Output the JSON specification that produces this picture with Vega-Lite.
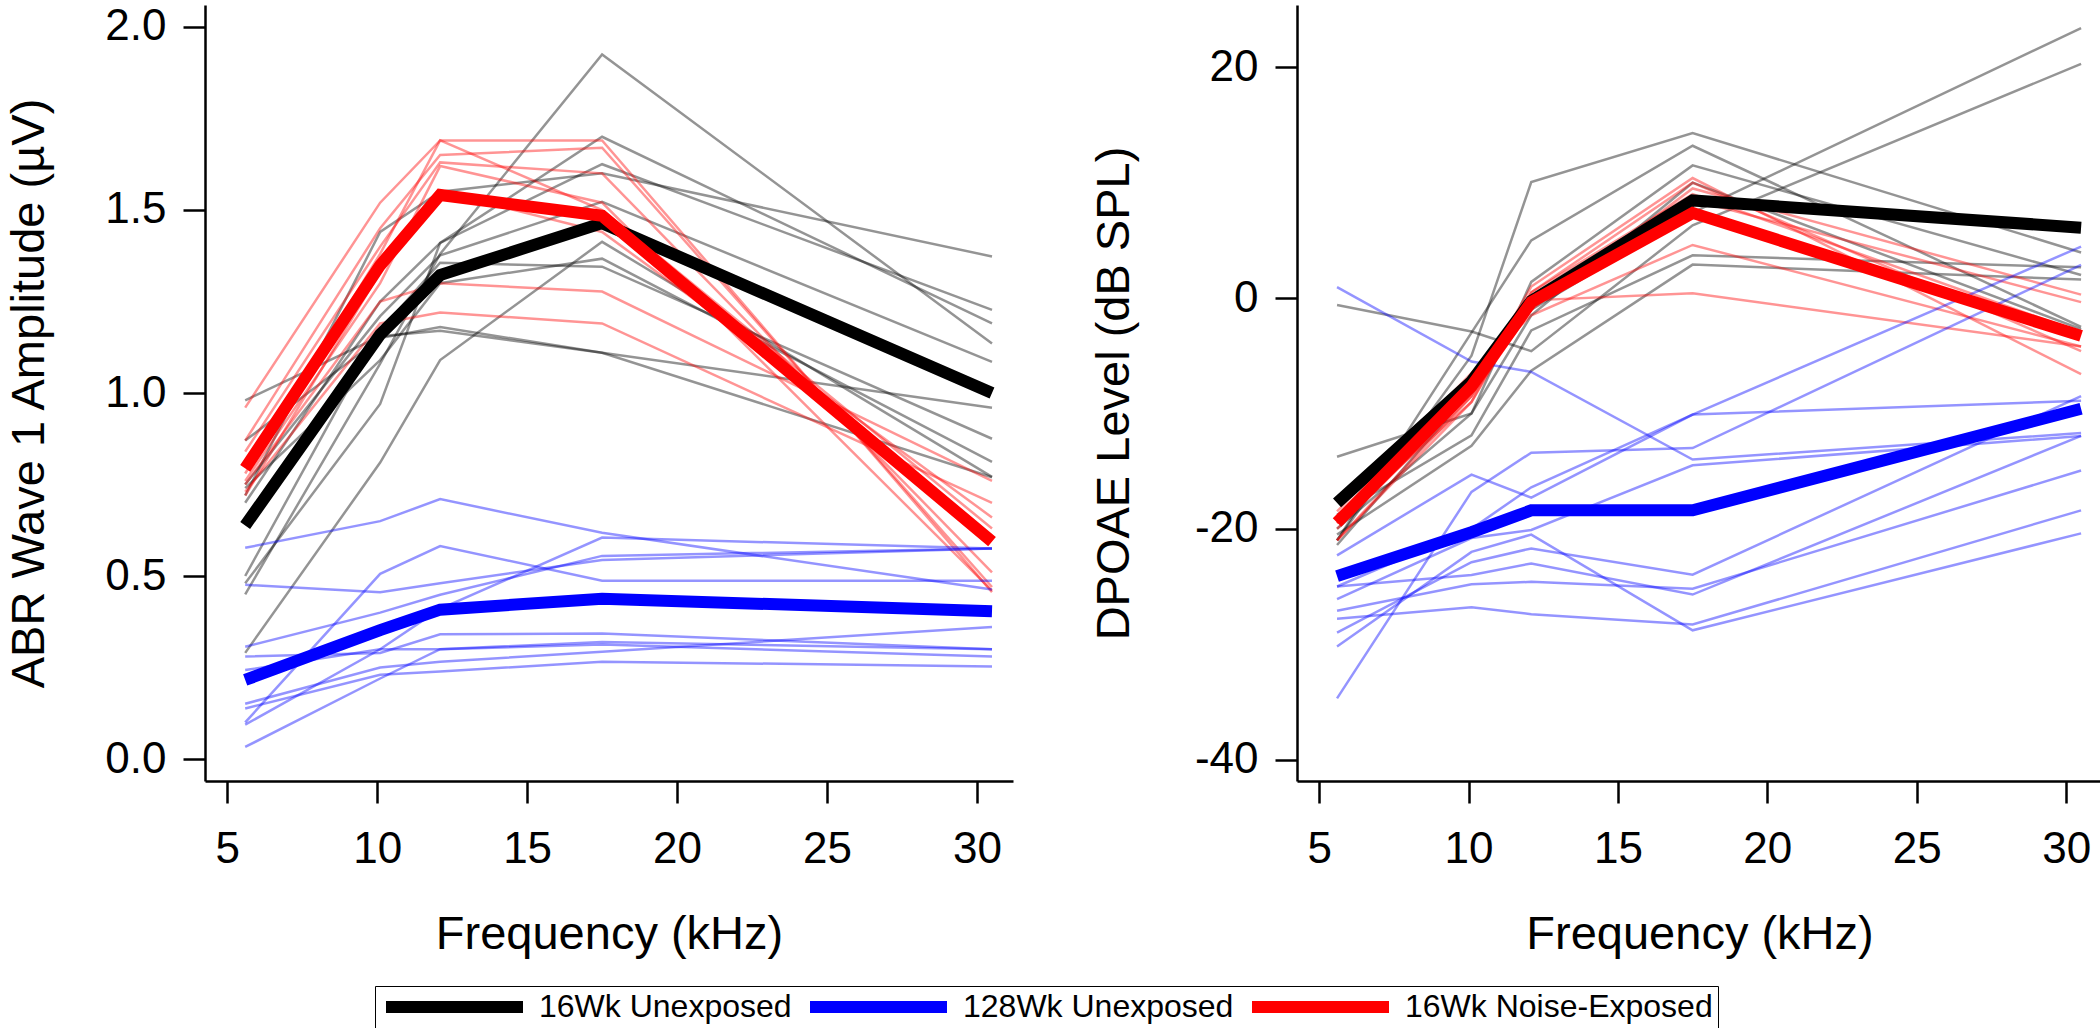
{
  "$schema": "https://vega.github.io/schema/vega-lite/v6.json",
  "padding": {"left": 5, "top": 4, "right": 0, "bottom": 0},
  "bounds": "flush",
  "spacing": 284,
  "config": {
    "font": "Liberation Sans",
    "view": {"stroke": null},
    "axis": {
      "grid": false,
      "domainColor": "black",
      "domainWidth": 2.5,
      "tickColor": "black",
      "tickWidth": 2.5,
      "tickSize": 22,
      "labelFont": "Liberation Sans",
      "labelFontSize": 44,
      "labelColor": "black",
      "labelFlush": false,
      "titleFont": "Liberation Sans",
      "titleFontSize": 47,
      "titleFontWeight": "normal",
      "titleColor": "black"
    },
    "axisX": {"labelPadding": 24, "titlePadding": 40},
    "axisY": {"labelPadding": 17}
  },
  "resolve": {"scale": {"color": "independent", "stroke": "independent"}, "legend": {"color": "independent"}},
  "datasets": {
    "abr": [
      {"g": "16Wk Unexposed", "id": "B1", "f": 5.6, "v": 0.45}, {"g": "16Wk Unexposed", "id": "B1", "f": 10.1, "v": 1.08}, {"g": "16Wk Unexposed", "id": "B1", "f": 12.1, "v": 1.38}, {"g": "16Wk Unexposed", "id": "B1", "f": 17.5, "v": 1.925}, {"g": "16Wk Unexposed", "id": "B1", "f": 30.5, "v": 1.135},
      {"g": "16Wk Unexposed", "id": "B2", "f": 5.6, "v": 0.48}, {"g": "16Wk Unexposed", "id": "B2", "f": 10.1, "v": 0.97}, {"g": "16Wk Unexposed", "id": "B2", "f": 12.1, "v": 1.41}, {"g": "16Wk Unexposed", "id": "B2", "f": 17.5, "v": 1.70}, {"g": "16Wk Unexposed", "id": "B2", "f": 30.5, "v": 1.19},
      {"g": "16Wk Unexposed", "id": "B3", "f": 5.6, "v": 0.72}, {"g": "16Wk Unexposed", "id": "B3", "f": 10.1, "v": 1.44}, {"g": "16Wk Unexposed", "id": "B3", "f": 12.1, "v": 1.55}, {"g": "16Wk Unexposed", "id": "B3", "f": 17.5, "v": 1.60}, {"g": "16Wk Unexposed", "id": "B3", "f": 30.5, "v": 1.373},
      {"g": "16Wk Unexposed", "id": "B4", "f": 5.6, "v": 0.70}, {"g": "16Wk Unexposed", "id": "B4", "f": 10.1, "v": 1.25}, {"g": "16Wk Unexposed", "id": "B4", "f": 12.1, "v": 1.41}, {"g": "16Wk Unexposed", "id": "B4", "f": 17.5, "v": 1.625}, {"g": "16Wk Unexposed", "id": "B4", "f": 30.5, "v": 1.227},
      {"g": "16Wk Unexposed", "id": "B5", "f": 5.6, "v": 0.75}, {"g": "16Wk Unexposed", "id": "B5", "f": 10.1, "v": 1.21}, {"g": "16Wk Unexposed", "id": "B5", "f": 12.1, "v": 1.376}, {"g": "16Wk Unexposed", "id": "B5", "f": 17.5, "v": 1.522}, {"g": "16Wk Unexposed", "id": "B5", "f": 30.5, "v": 1.085},
      {"g": "16Wk Unexposed", "id": "B6", "f": 5.6, "v": 0.50}, {"g": "16Wk Unexposed", "id": "B6", "f": 10.1, "v": 1.17}, {"g": "16Wk Unexposed", "id": "B6", "f": 12.1, "v": 1.356}, {"g": "16Wk Unexposed", "id": "B6", "f": 17.5, "v": 1.345}, {"g": "16Wk Unexposed", "id": "B6", "f": 30.5, "v": 0.875},
      {"g": "16Wk Unexposed", "id": "B7", "f": 5.6, "v": 0.74}, {"g": "16Wk Unexposed", "id": "B7", "f": 10.1, "v": 1.09}, {"g": "16Wk Unexposed", "id": "B7", "f": 12.1, "v": 1.30}, {"g": "16Wk Unexposed", "id": "B7", "f": 17.5, "v": 1.367}, {"g": "16Wk Unexposed", "id": "B7", "f": 30.5, "v": 0.812},
      {"g": "16Wk Unexposed", "id": "B8", "f": 5.6, "v": 0.29}, {"g": "16Wk Unexposed", "id": "B8", "f": 10.1, "v": 0.81}, {"g": "16Wk Unexposed", "id": "B8", "f": 12.1, "v": 1.09}, {"g": "16Wk Unexposed", "id": "B8", "f": 17.5, "v": 1.413}, {"g": "16Wk Unexposed", "id": "B8", "f": 30.5, "v": 0.771},
      {"g": "16Wk Unexposed", "id": "B9", "f": 5.6, "v": 0.98}, {"g": "16Wk Unexposed", "id": "B9", "f": 10.1, "v": 1.155}, {"g": "16Wk Unexposed", "id": "B9", "f": 12.1, "v": 1.17}, {"g": "16Wk Unexposed", "id": "B9", "f": 17.5, "v": 1.11}, {"g": "16Wk Unexposed", "id": "B9", "f": 30.5, "v": 0.77},
      {"g": "16Wk Unexposed", "id": "B10", "f": 5.6, "v": 0.87}, {"g": "16Wk Unexposed", "id": "B10", "f": 10.1, "v": 1.15}, {"g": "16Wk Unexposed", "id": "B10", "f": 12.1, "v": 1.18}, {"g": "16Wk Unexposed", "id": "B10", "f": 17.5, "v": 1.11}, {"g": "16Wk Unexposed", "id": "B10", "f": 30.5, "v": 0.96},
      {"g": "16Wk Noise-Exposed", "id": "R1", "f": 5.6, "v": 0.96}, {"g": "16Wk Noise-Exposed", "id": "R1", "f": 10.1, "v": 1.52}, {"g": "16Wk Noise-Exposed", "id": "R1", "f": 12.1, "v": 1.69}, {"g": "16Wk Noise-Exposed", "id": "R1", "f": 17.5, "v": 1.69}, {"g": "16Wk Noise-Exposed", "id": "R1", "f": 30.5, "v": 0.456},
      {"g": "16Wk Noise-Exposed", "id": "R2", "f": 5.6, "v": 0.87}, {"g": "16Wk Noise-Exposed", "id": "R2", "f": 10.1, "v": 1.45}, {"g": "16Wk Noise-Exposed", "id": "R2", "f": 12.1, "v": 1.65}, {"g": "16Wk Noise-Exposed", "id": "R2", "f": 17.5, "v": 1.67}, {"g": "16Wk Noise-Exposed", "id": "R2", "f": 30.5, "v": 0.47},
      {"g": "16Wk Noise-Exposed", "id": "R3", "f": 5.6, "v": 0.84}, {"g": "16Wk Noise-Exposed", "id": "R3", "f": 10.1, "v": 1.40}, {"g": "16Wk Noise-Exposed", "id": "R3", "f": 12.1, "v": 1.63}, {"g": "16Wk Noise-Exposed", "id": "R3", "f": 17.5, "v": 1.60}, {"g": "16Wk Noise-Exposed", "id": "R3", "f": 30.5, "v": 0.51},
      {"g": "16Wk Noise-Exposed", "id": "R4", "f": 5.6, "v": 0.78}, {"g": "16Wk Noise-Exposed", "id": "R4", "f": 10.1, "v": 1.38}, {"g": "16Wk Noise-Exposed", "id": "R4", "f": 12.1, "v": 1.69}, {"g": "16Wk Noise-Exposed", "id": "R4", "f": 17.5, "v": 1.50}, {"g": "16Wk Noise-Exposed", "id": "R4", "f": 30.5, "v": 0.63},
      {"g": "16Wk Noise-Exposed", "id": "R5", "f": 5.6, "v": 0.75}, {"g": "16Wk Noise-Exposed", "id": "R5", "f": 10.1, "v": 1.25}, {"g": "16Wk Noise-Exposed", "id": "R5", "f": 12.1, "v": 1.30}, {"g": "16Wk Noise-Exposed", "id": "R5", "f": 17.5, "v": 1.277}, {"g": "16Wk Noise-Exposed", "id": "R5", "f": 30.5, "v": 0.76},
      {"g": "16Wk Noise-Exposed", "id": "R6", "f": 5.6, "v": 0.73}, {"g": "16Wk Noise-Exposed", "id": "R6", "f": 10.1, "v": 1.19}, {"g": "16Wk Noise-Exposed", "id": "R6", "f": 12.1, "v": 1.22}, {"g": "16Wk Noise-Exposed", "id": "R6", "f": 17.5, "v": 1.19}, {"g": "16Wk Noise-Exposed", "id": "R6", "f": 30.5, "v": 0.70},
      {"g": "16Wk Noise-Exposed", "id": "R7", "f": 5.6, "v": 0.76}, {"g": "16Wk Noise-Exposed", "id": "R7", "f": 10.1, "v": 1.30}, {"g": "16Wk Noise-Exposed", "id": "R7", "f": 12.1, "v": 1.62}, {"g": "16Wk Noise-Exposed", "id": "R7", "f": 17.5, "v": 1.52}, {"g": "16Wk Noise-Exposed", "id": "R7", "f": 30.5, "v": 0.46},
      {"g": "16Wk Noise-Exposed", "id": "R8", "f": 5.6, "v": 0.72}, {"g": "16Wk Noise-Exposed", "id": "R8", "f": 10.1, "v": 1.33}, {"g": "16Wk Noise-Exposed", "id": "R8", "f": 12.1, "v": 1.55}, {"g": "16Wk Noise-Exposed", "id": "R8", "f": 17.5, "v": 1.44}, {"g": "16Wk Noise-Exposed", "id": "R8", "f": 30.5, "v": 0.66},
      {"g": "128Wk Unexposed", "id": "L1", "f": 5.6, "v": 0.577}, {"g": "128Wk Unexposed", "id": "L1", "f": 10.1, "v": 0.65}, {"g": "128Wk Unexposed", "id": "L1", "f": 12.1, "v": 0.71}, {"g": "128Wk Unexposed", "id": "L1", "f": 17.5, "v": 0.618}, {"g": "128Wk Unexposed", "id": "L1", "f": 30.5, "v": 0.463},
      {"g": "128Wk Unexposed", "id": "L2", "f": 5.6, "v": 0.476}, {"g": "128Wk Unexposed", "id": "L2", "f": 10.1, "v": 0.456}, {"g": "128Wk Unexposed", "id": "L2", "f": 12.1, "v": 0.48}, {"g": "128Wk Unexposed", "id": "L2", "f": 17.5, "v": 0.544}, {"g": "128Wk Unexposed", "id": "L2", "f": 30.5, "v": 0.575},
      {"g": "128Wk Unexposed", "id": "L3", "f": 5.6, "v": 0.10}, {"g": "128Wk Unexposed", "id": "L3", "f": 10.1, "v": 0.506}, {"g": "128Wk Unexposed", "id": "L3", "f": 12.1, "v": 0.582}, {"g": "128Wk Unexposed", "id": "L3", "f": 17.5, "v": 0.487}, {"g": "128Wk Unexposed", "id": "L3", "f": 30.5, "v": 0.487},
      {"g": "128Wk Unexposed", "id": "L4", "f": 5.6, "v": 0.307}, {"g": "128Wk Unexposed", "id": "L4", "f": 10.1, "v": 0.40}, {"g": "128Wk Unexposed", "id": "L4", "f": 12.1, "v": 0.449}, {"g": "128Wk Unexposed", "id": "L4", "f": 17.5, "v": 0.555}, {"g": "128Wk Unexposed", "id": "L4", "f": 30.5, "v": 0.575},
      {"g": "128Wk Unexposed", "id": "L5", "f": 5.6, "v": 0.094}, {"g": "128Wk Unexposed", "id": "L5", "f": 10.1, "v": 0.30}, {"g": "128Wk Unexposed", "id": "L5", "f": 12.1, "v": 0.41}, {"g": "128Wk Unexposed", "id": "L5", "f": 17.5, "v": 0.605}, {"g": "128Wk Unexposed", "id": "L5", "f": 30.5, "v": 0.575},
      {"g": "128Wk Unexposed", "id": "L6", "f": 5.6, "v": 0.28}, {"g": "128Wk Unexposed", "id": "L6", "f": 10.1, "v": 0.29}, {"g": "128Wk Unexposed", "id": "L6", "f": 12.1, "v": 0.341}, {"g": "128Wk Unexposed", "id": "L6", "f": 17.5, "v": 0.343}, {"g": "128Wk Unexposed", "id": "L6", "f": 30.5, "v": 0.30},
      {"g": "128Wk Unexposed", "id": "L7", "f": 5.6, "v": 0.243}, {"g": "128Wk Unexposed", "id": "L7", "f": 10.1, "v": 0.30}, {"g": "128Wk Unexposed", "id": "L7", "f": 12.1, "v": 0.30}, {"g": "128Wk Unexposed", "id": "L7", "f": 17.5, "v": 0.313}, {"g": "128Wk Unexposed", "id": "L7", "f": 30.5, "v": 0.28},
      {"g": "128Wk Unexposed", "id": "L8", "f": 5.6, "v": 0.151}, {"g": "128Wk Unexposed", "id": "L8", "f": 10.1, "v": 0.25}, {"g": "128Wk Unexposed", "id": "L8", "f": 12.1, "v": 0.266}, {"g": "128Wk Unexposed", "id": "L8", "f": 17.5, "v": 0.293}, {"g": "128Wk Unexposed", "id": "L8", "f": 30.5, "v": 0.361},
      {"g": "128Wk Unexposed", "id": "L9", "f": 5.6, "v": 0.138}, {"g": "128Wk Unexposed", "id": "L9", "f": 10.1, "v": 0.23}, {"g": "128Wk Unexposed", "id": "L9", "f": 12.1, "v": 0.239}, {"g": "128Wk Unexposed", "id": "L9", "f": 17.5, "v": 0.266}, {"g": "128Wk Unexposed", "id": "L9", "f": 30.5, "v": 0.253},
      {"g": "128Wk Unexposed", "id": "L10", "f": 5.6, "v": 0.033}, {"g": "128Wk Unexposed", "id": "L10", "f": 10.1, "v": 0.22}, {"g": "128Wk Unexposed", "id": "L10", "f": 12.1, "v": 0.30}, {"g": "128Wk Unexposed", "id": "L10", "f": 17.5, "v": 0.32}, {"g": "128Wk Unexposed", "id": "L10", "f": 30.5, "v": 0.30},
      {"g": "16Wk Unexposed", "id": "mean", "f": 5.6, "v": 0.638}, {"g": "16Wk Unexposed", "id": "mean", "f": 10.1, "v": 1.16}, {"g": "16Wk Unexposed", "id": "mean", "f": 12.1, "v": 1.322}, {"g": "16Wk Unexposed", "id": "mean", "f": 17.5, "v": 1.464}, {"g": "16Wk Unexposed", "id": "mean", "f": 30.5, "v": 1.0},
      {"g": "128Wk Unexposed", "id": "mean", "f": 5.6, "v": 0.216}, {"g": "128Wk Unexposed", "id": "mean", "f": 10.1, "v": 0.352}, {"g": "128Wk Unexposed", "id": "mean", "f": 12.1, "v": 0.408}, {"g": "128Wk Unexposed", "id": "mean", "f": 17.5, "v": 0.438}, {"g": "128Wk Unexposed", "id": "mean", "f": 30.5, "v": 0.404},
      {"g": "16Wk Noise-Exposed", "id": "mean", "f": 5.6, "v": 0.794}, {"g": "16Wk Noise-Exposed", "id": "mean", "f": 10.1, "v": 1.349}, {"g": "16Wk Noise-Exposed", "id": "mean", "f": 12.1, "v": 1.541}, {"g": "16Wk Noise-Exposed", "id": "mean", "f": 17.5, "v": 1.484}, {"g": "16Wk Noise-Exposed", "id": "mean", "f": 30.5, "v": 0.594}
    ],
    "dpoae": [
      {"g": "16Wk Unexposed", "id": "D1", "f": 5.6, "v": -0.6}, {"g": "16Wk Unexposed", "id": "D1", "f": 10.1, "v": -2.9}, {"g": "16Wk Unexposed", "id": "D1", "f": 12.1, "v": -4.6}, {"g": "16Wk Unexposed", "id": "D1", "f": 17.5, "v": 6.3}, {"g": "16Wk Unexposed", "id": "D1", "f": 30.5, "v": 20.3},
      {"g": "16Wk Unexposed", "id": "D2", "f": 5.6, "v": -21.0}, {"g": "16Wk Unexposed", "id": "D2", "f": 10.1, "v": -5.0}, {"g": "16Wk Unexposed", "id": "D2", "f": 12.1, "v": 10.05}, {"g": "16Wk Unexposed", "id": "D2", "f": 17.5, "v": 14.3}, {"g": "16Wk Unexposed", "id": "D2", "f": 30.5, "v": 3.95},
      {"g": "16Wk Unexposed", "id": "D3", "f": 5.6, "v": -21.0}, {"g": "16Wk Unexposed", "id": "D3", "f": 10.1, "v": -3.0}, {"g": "16Wk Unexposed", "id": "D3", "f": 12.1, "v": 5.0}, {"g": "16Wk Unexposed", "id": "D3", "f": 17.5, "v": 13.2}, {"g": "16Wk Unexposed", "id": "D3", "f": 30.5, "v": -2.5},
      {"g": "16Wk Unexposed", "id": "D4", "f": 5.6, "v": -13.75}, {"g": "16Wk Unexposed", "id": "D4", "f": 10.1, "v": -10.0}, {"g": "16Wk Unexposed", "id": "D4", "f": 12.1, "v": 1.4}, {"g": "16Wk Unexposed", "id": "D4", "f": 17.5, "v": 11.5}, {"g": "16Wk Unexposed", "id": "D4", "f": 30.5, "v": 2.0},
      {"g": "16Wk Unexposed", "id": "D5", "f": 5.6, "v": -21.4}, {"g": "16Wk Unexposed", "id": "D5", "f": 10.1, "v": -8.0}, {"g": "16Wk Unexposed", "id": "D5", "f": 12.1, "v": -1.0}, {"g": "16Wk Unexposed", "id": "D5", "f": 17.5, "v": 7.4}, {"g": "16Wk Unexposed", "id": "D5", "f": 30.5, "v": 23.4},
      {"g": "16Wk Unexposed", "id": "D6", "f": 5.6, "v": -20.0}, {"g": "16Wk Unexposed", "id": "D6", "f": 10.1, "v": -10.0}, {"g": "16Wk Unexposed", "id": "D6", "f": 12.1, "v": -1.5}, {"g": "16Wk Unexposed", "id": "D6", "f": 17.5, "v": 10.0}, {"g": "16Wk Unexposed", "id": "D6", "f": 30.5, "v": -2.7},
      {"g": "16Wk Unexposed", "id": "D7", "f": 5.6, "v": -18.8}, {"g": "16Wk Unexposed", "id": "D7", "f": 10.1, "v": -11.9}, {"g": "16Wk Unexposed", "id": "D7", "f": 12.1, "v": -2.8}, {"g": "16Wk Unexposed", "id": "D7", "f": 17.5, "v": 3.7}, {"g": "16Wk Unexposed", "id": "D7", "f": 30.5, "v": 2.66},
      {"g": "16Wk Unexposed", "id": "D8", "f": 5.6, "v": -20.5}, {"g": "16Wk Unexposed", "id": "D8", "f": 10.1, "v": -12.8}, {"g": "16Wk Unexposed", "id": "D8", "f": 12.1, "v": -6.3}, {"g": "16Wk Unexposed", "id": "D8", "f": 17.5, "v": 2.9}, {"g": "16Wk Unexposed", "id": "D8", "f": 30.5, "v": 1.6},
      {"g": "16Wk Noise-Exposed", "id": "Q1", "f": 5.6, "v": -19.0}, {"g": "16Wk Noise-Exposed", "id": "Q1", "f": 10.1, "v": -8.0}, {"g": "16Wk Noise-Exposed", "id": "Q1", "f": 12.1, "v": 1.0}, {"g": "16Wk Noise-Exposed", "id": "Q1", "f": 17.5, "v": 10.4}, {"g": "16Wk Noise-Exposed", "id": "Q1", "f": 30.5, "v": -6.6},
      {"g": "16Wk Noise-Exposed", "id": "Q2", "f": 5.6, "v": -20.0}, {"g": "16Wk Noise-Exposed", "id": "Q2", "f": 10.1, "v": -8.5}, {"g": "16Wk Noise-Exposed", "id": "Q2", "f": 12.1, "v": 0.5}, {"g": "16Wk Noise-Exposed", "id": "Q2", "f": 17.5, "v": 10.0}, {"g": "16Wk Noise-Exposed", "id": "Q2", "f": 30.5, "v": -4.6},
      {"g": "16Wk Noise-Exposed", "id": "Q3", "f": 5.6, "v": -21.0}, {"g": "16Wk Noise-Exposed", "id": "Q3", "f": 10.1, "v": -8.5}, {"g": "16Wk Noise-Exposed", "id": "Q3", "f": 12.1, "v": -1.0}, {"g": "16Wk Noise-Exposed", "id": "Q3", "f": 17.5, "v": 9.5}, {"g": "16Wk Noise-Exposed", "id": "Q3", "f": 30.5, "v": 0.3},
      {"g": "16Wk Noise-Exposed", "id": "Q4", "f": 5.6, "v": -19.5}, {"g": "16Wk Noise-Exposed", "id": "Q4", "f": 10.1, "v": -7.0}, {"g": "16Wk Noise-Exposed", "id": "Q4", "f": 12.1, "v": 0.0}, {"g": "16Wk Noise-Exposed", "id": "Q4", "f": 17.5, "v": 8.5}, {"g": "16Wk Noise-Exposed", "id": "Q4", "f": 30.5, "v": -0.35},
      {"g": "16Wk Noise-Exposed", "id": "Q5", "f": 5.6, "v": -18.5}, {"g": "16Wk Noise-Exposed", "id": "Q5", "f": 10.1, "v": -6.5}, {"g": "16Wk Noise-Exposed", "id": "Q5", "f": 12.1, "v": -1.5}, {"g": "16Wk Noise-Exposed", "id": "Q5", "f": 17.5, "v": 4.6}, {"g": "16Wk Noise-Exposed", "id": "Q5", "f": 30.5, "v": -4.2},
      {"g": "16Wk Noise-Exposed", "id": "Q6", "f": 5.6, "v": -21.0}, {"g": "16Wk Noise-Exposed", "id": "Q6", "f": 10.1, "v": -9.0}, {"g": "16Wk Noise-Exposed", "id": "Q6", "f": 12.1, "v": -0.2}, {"g": "16Wk Noise-Exposed", "id": "Q6", "f": 17.5, "v": 0.42}, {"g": "16Wk Noise-Exposed", "id": "Q6", "f": 30.5, "v": -4.2},
      {"g": "16Wk Noise-Exposed", "id": "Q7", "f": 5.6, "v": -19.5}, {"g": "16Wk Noise-Exposed", "id": "Q7", "f": 10.1, "v": -9.0}, {"g": "16Wk Noise-Exposed", "id": "Q7", "f": 12.1, "v": 0.5}, {"g": "16Wk Noise-Exposed", "id": "Q7", "f": 17.5, "v": 9.0}, {"g": "16Wk Noise-Exposed", "id": "Q7", "f": 30.5, "v": -3.0},
      {"g": "128Wk Unexposed", "id": "E1", "f": 5.6, "v": 0.94}, {"g": "128Wk Unexposed", "id": "E1", "f": 10.1, "v": -5.5}, {"g": "128Wk Unexposed", "id": "E1", "f": 12.1, "v": -6.4}, {"g": "128Wk Unexposed", "id": "E1", "f": 17.5, "v": -14.0}, {"g": "128Wk Unexposed", "id": "E1", "f": 30.5, "v": -11.7},
      {"g": "128Wk Unexposed", "id": "E2", "f": 5.6, "v": -25.0}, {"g": "128Wk Unexposed", "id": "E2", "f": 10.1, "v": -20.0}, {"g": "128Wk Unexposed", "id": "E2", "f": 12.1, "v": -16.4}, {"g": "128Wk Unexposed", "id": "E2", "f": 17.5, "v": -10.1}, {"g": "128Wk Unexposed", "id": "E2", "f": 30.5, "v": 4.46},
      {"g": "128Wk Unexposed", "id": "E3", "f": 5.6, "v": -34.7}, {"g": "128Wk Unexposed", "id": "E3", "f": 10.1, "v": -16.8}, {"g": "128Wk Unexposed", "id": "E3", "f": 12.1, "v": -13.4}, {"g": "128Wk Unexposed", "id": "E3", "f": 17.5, "v": -13.0}, {"g": "128Wk Unexposed", "id": "E3", "f": 30.5, "v": 2.87},
      {"g": "128Wk Unexposed", "id": "E4", "f": 5.6, "v": -22.3}, {"g": "128Wk Unexposed", "id": "E4", "f": 10.1, "v": -15.3}, {"g": "128Wk Unexposed", "id": "E4", "f": 12.1, "v": -17.3}, {"g": "128Wk Unexposed", "id": "E4", "f": 17.5, "v": -10.1}, {"g": "128Wk Unexposed", "id": "E4", "f": 30.5, "v": -8.9},
      {"g": "128Wk Unexposed", "id": "E5", "f": 5.6, "v": -26.1}, {"g": "128Wk Unexposed", "id": "E5", "f": 10.1, "v": -20.8}, {"g": "128Wk Unexposed", "id": "E5", "f": 12.1, "v": -20.1}, {"g": "128Wk Unexposed", "id": "E5", "f": 17.5, "v": -14.5}, {"g": "128Wk Unexposed", "id": "E5", "f": 30.5, "v": -11.95},
      {"g": "128Wk Unexposed", "id": "E6", "f": 5.6, "v": -29.0}, {"g": "128Wk Unexposed", "id": "E6", "f": 10.1, "v": -22.9}, {"g": "128Wk Unexposed", "id": "E6", "f": 12.1, "v": -21.7}, {"g": "128Wk Unexposed", "id": "E6", "f": 17.5, "v": -23.98}, {"g": "128Wk Unexposed", "id": "E6", "f": 30.5, "v": -8.5},
      {"g": "128Wk Unexposed", "id": "E7", "f": 5.6, "v": -27.1}, {"g": "128Wk Unexposed", "id": "E7", "f": 10.1, "v": -24.8}, {"g": "128Wk Unexposed", "id": "E7", "f": 12.1, "v": -24.6}, {"g": "128Wk Unexposed", "id": "E7", "f": 17.5, "v": -25.2}, {"g": "128Wk Unexposed", "id": "E7", "f": 30.5, "v": -14.95},
      {"g": "128Wk Unexposed", "id": "E8", "f": 5.6, "v": -27.8}, {"g": "128Wk Unexposed", "id": "E8", "f": 10.1, "v": -26.8}, {"g": "128Wk Unexposed", "id": "E8", "f": 12.1, "v": -27.4}, {"g": "128Wk Unexposed", "id": "E8", "f": 17.5, "v": -28.3}, {"g": "128Wk Unexposed", "id": "E8", "f": 30.5, "v": -18.4},
      {"g": "128Wk Unexposed", "id": "E9", "f": 5.6, "v": -30.2}, {"g": "128Wk Unexposed", "id": "E9", "f": 10.1, "v": -22.0}, {"g": "128Wk Unexposed", "id": "E9", "f": 12.1, "v": -20.5}, {"g": "128Wk Unexposed", "id": "E9", "f": 17.5, "v": -28.8}, {"g": "128Wk Unexposed", "id": "E9", "f": 30.5, "v": -20.4},
      {"g": "128Wk Unexposed", "id": "E10", "f": 5.6, "v": -25.0}, {"g": "128Wk Unexposed", "id": "E10", "f": 10.1, "v": -24.0}, {"g": "128Wk Unexposed", "id": "E10", "f": 12.1, "v": -23.0}, {"g": "128Wk Unexposed", "id": "E10", "f": 17.5, "v": -25.7}, {"g": "128Wk Unexposed", "id": "E10", "f": 30.5, "v": -11.95},
      {"g": "16Wk Unexposed", "id": "mean", "f": 5.6, "v": -17.75}, {"g": "16Wk Unexposed", "id": "mean", "f": 10.1, "v": -7.22}, {"g": "16Wk Unexposed", "id": "mean", "f": 12.1, "v": -0.26}, {"g": "16Wk Unexposed", "id": "mean", "f": 17.5, "v": 8.46}, {"g": "16Wk Unexposed", "id": "mean", "f": 30.5, "v": 6.1},
      {"g": "128Wk Unexposed", "id": "mean", "f": 5.6, "v": -24.1}, {"g": "128Wk Unexposed", "id": "mean", "f": 10.1, "v": -20.3}, {"g": "128Wk Unexposed", "id": "mean", "f": 12.1, "v": -18.4}, {"g": "128Wk Unexposed", "id": "mean", "f": 17.5, "v": -18.4}, {"g": "128Wk Unexposed", "id": "mean", "f": 30.5, "v": -9.6},
      {"g": "16Wk Noise-Exposed", "id": "mean", "f": 5.6, "v": -19.46}, {"g": "16Wk Noise-Exposed", "id": "mean", "f": 10.1, "v": -7.65}, {"g": "16Wk Noise-Exposed", "id": "mean", "f": 12.1, "v": -0.35}, {"g": "16Wk Noise-Exposed", "id": "mean", "f": 17.5, "v": 7.38}, {"g": "16Wk Noise-Exposed", "id": "mean", "f": 30.5, "v": -3.28}
    ]
  },
  "hconcat": [
    {
      "width": 808,
      "height": 776,
      "data": {"name": "abr"},
      "encoding": {
        "x": {
          "field": "f", "type": "quantitative",
          "scale": {"domain": [4.26, 31.2], "nice": false, "zero": false},
          "axis": {"title": "Frequency (kHz)", "values": [5, 10, 15, 20, 25, 30]}
        },
        "y": {
          "field": "v", "type": "quantitative",
          "scale": {"domain": [-0.06, 2.06], "nice": false, "zero": false},
          "axis": {"title": "ABR Wave 1 Amplitude (µV)", "values": [0, 0.5, 1, 1.5, 2], "format": ".1f", "titlePadding": 51}
        }
      },
      "layer": [
        {
          "transform": [{"filter": "datum.id != 'mean'"}],
          "mark": {"type": "line", "strokeWidth": 2.5, "opacity": 0.42},
          "encoding": {
            "stroke": {
              "field": "g", "type": "nominal", "legend": null,
              "scale": {"domain": ["128Wk Unexposed", "16Wk Noise-Exposed", "16Wk Unexposed"], "range": ["#0000ff", "#ff0000", "#000000"]}
            },
            "detail": {"field": "id"}
          }
        },
        {
          "transform": [{"filter": "datum.id == 'mean'"}],
          "mark": {"type": "line", "strokeWidth": 12},
          "encoding": {
            "color": {
              "field": "g", "type": "nominal",
              "scale": {"domain": ["16Wk Unexposed", "128Wk Unexposed", "16Wk Noise-Exposed"], "range": ["#000000", "#0000ff", "#ff0000"]},
              "legend": {
                "title": null,
                "orient": "none",
                "legendX": 170,
                "legendY": 981,
                "direction": "horizontal",
                "symbolType": "stroke",
                "symbolSize": 18769,
                "symbolStrokeWidth": 12,
                "symbolOpacity": 1,
                "clipHeight": 32,
                "labelFont": "Liberation Sans",
                "labelFontSize": 32,
                "labelColor": "black",
                "labelOffset": 10,
                "labelLimit": 0,
                "columnPadding": 12,
                "padding": 5,
                "strokeColor": "black"
              }
            }
          }
        }
      ]
    },
    {
      "width": 805,
      "height": 776,
      "data": {"name": "dpoae"},
      "encoding": {
        "x": {
          "field": "f", "type": "quantitative",
          "scale": {"domain": [4.26, 31.2], "nice": false, "zero": false},
          "axis": {"title": "Frequency (kHz)", "values": [5, 10, 15, 20, 25, 30]}
        },
        "y": {
          "field": "v", "type": "quantitative",
          "scale": {"domain": [-41.86, 25.4], "nice": false, "zero": false},
          "axis": {"title": "DPOAE Level (dB SPL)", "values": [-40, -20, 0, 20], "labelExpr": "replace(datum.label, '\u2212', '-')", "titlePadding": 56}
        }
      },
      "layer": [
        {
          "transform": [{"filter": "datum.id != 'mean'"}],
          "mark": {"type": "line", "strokeWidth": 2.5, "opacity": 0.42},
          "encoding": {
            "stroke": {
              "field": "g", "type": "nominal", "legend": null,
              "scale": {"domain": ["128Wk Unexposed", "16Wk Noise-Exposed", "16Wk Unexposed"], "range": ["#0000ff", "#ff0000", "#000000"]}
            },
            "detail": {"field": "id"}
          }
        },
        {
          "transform": [{"filter": "datum.id == 'mean'"}],
          "mark": {"type": "line", "strokeWidth": 12},
          "encoding": {
            "color": {
              "field": "g", "type": "nominal", "legend": null,
              "scale": {"domain": ["16Wk Unexposed", "128Wk Unexposed", "16Wk Noise-Exposed"], "range": ["#000000", "#0000ff", "#ff0000"]}
            }
          }
        }
      ]
    }
  ]
}
